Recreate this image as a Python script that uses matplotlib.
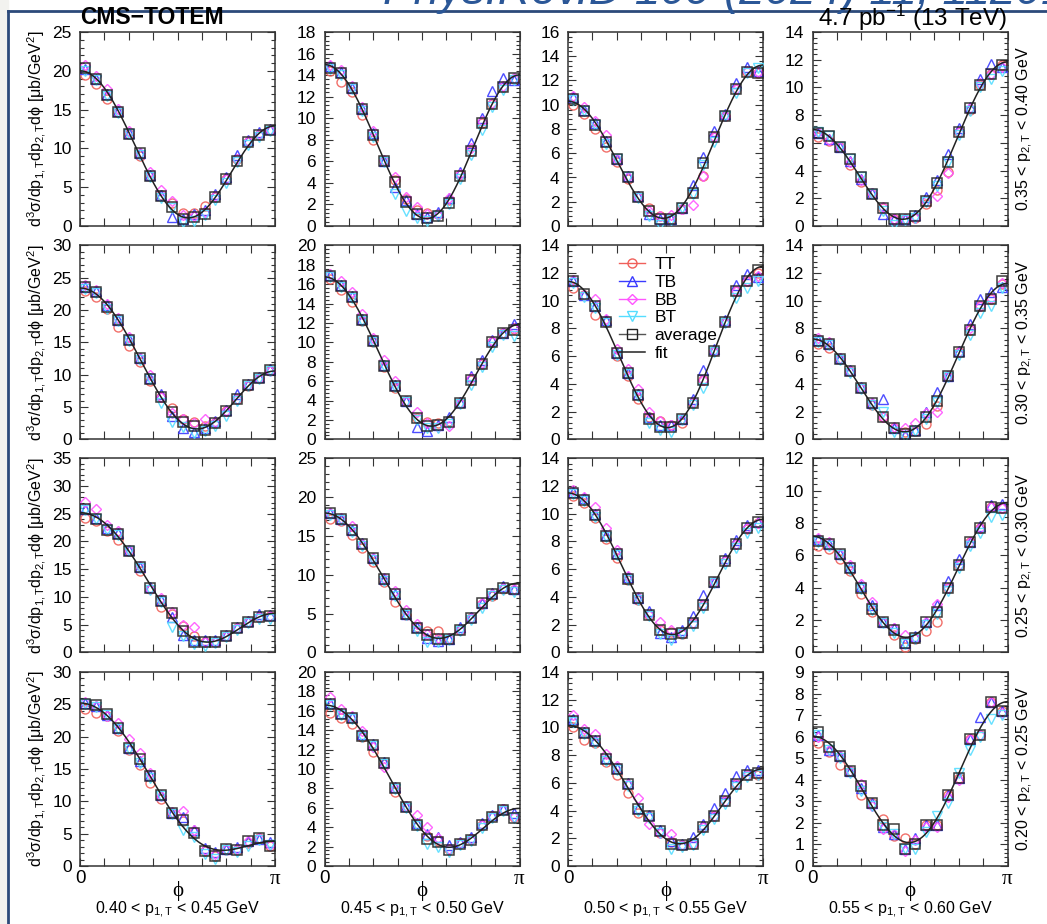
import numpy as np
import matplotlib
matplotlib.use("Agg")
import matplotlib.pyplot as plt
from matplotlib.ticker import FixedLocator, MultipleLocator, AutoMinorLocator, NullFormatter
from matplotlib.lines import Line2D
from matplotlib.patches import Rectangle

plt.rcParams['font.family'] = ['Liberation Sans', 'DejaVu Sans']
plt.rcParams['mathtext.fontset'] = 'custom'
plt.rcParams['mathtext.rm'] = 'Liberation Sans'
plt.rcParams['mathtext.it'] = 'Liberation Sans:italic'
plt.rcParams['mathtext.bf'] = 'Liberation Sans:bold'

# ---------------- data ----------------
N_BINS = 18
P1_EDGES = ["0.40", "0.45", "0.50", "0.55", "0.60"]          # columns
P2_ROWS = [("0.35", "0.40"), ("0.30", "0.35"), ("0.25", "0.30"), ("0.20", "0.25")]  # rows (top->bottom)
Y_MAX = [[25, 18, 16, 14], [30, 20, 14, 14], [35, 25, 14, 12], [30, 20, 14, 9]]
Y_STEP = [[5, 2, 2, 2], [5, 2, 2, 2], [5, 5, 2, 2], [5, 2, 2, 1]]

AVG = [
 [[20.3,19.0,16.9,14.7,11.9,9.4,6.4,3.9,2.5,0.9,1.1,1.5,3.8,6.0,8.4,10.8,11.7,12.4],
  [14.7,14.2,12.8,10.9,8.4,6.0,4.1,2.2,1.1,0.7,0.9,2.1,4.6,7.0,9.6,11.3,12.9,13.7],
  [10.5,9.5,8.3,6.9,5.5,4.0,2.4,1.2,0.6,0.6,1.5,2.7,5.2,7.3,9.1,11.3,12.7,12.6],
  [6.7,6.5,5.7,4.8,3.5,2.3,1.3,0.5,0.5,0.7,1.8,3.1,4.6,6.8,8.5,10.2,11.0,11.6]],
 [[23.5,22.8,20.4,18.5,15.4,12.5,9.4,6.5,4.2,2.7,2.0,1.5,2.5,4.3,6.2,8.4,9.5,10.7],
  [16.8,15.8,14.7,12.3,10.1,7.6,5.5,3.9,2.2,1.4,1.5,1.8,3.7,6.1,7.8,10.0,11.0,11.3],
  [11.4,10.5,9.6,8.5,6.2,4.8,3.2,1.5,0.9,0.9,1.5,2.6,4.3,6.4,8.5,10.7,11.4,12.2],
  [7.1,6.9,5.8,4.9,3.7,2.6,1.6,0.8,0.4,0.6,1.6,2.8,4.6,6.3,7.9,9.6,10.1,11.4]],
 [[25.8,24.1,22.1,21.4,18.3,15.3,11.6,9.3,7.1,3.8,1.8,1.9,1.9,3.0,4.3,5.5,6.4,6.6],
  [17.9,17.2,15.7,13.9,12.2,9.4,7.5,4.9,3.1,2.2,1.7,1.7,2.9,4.4,6.4,7.5,8.3,8.1],
  [11.5,11.0,9.9,8.4,7.1,5.3,3.9,2.7,1.6,1.3,1.4,2.1,3.4,5.1,6.6,7.8,9.0,9.4],
  [6.9,6.7,6.1,5.2,4.0,2.7,1.9,1.4,0.6,0.9,1.9,2.5,4.0,5.4,6.8,7.7,9.0,8.9]],
 [[25.1,24.9,23.5,21.4,18.3,16.6,13.9,11.0,8.2,7.1,5.1,2.3,1.5,2.6,2.4,3.8,4.3,3.1],
  [16.7,15.7,15.3,13.4,12.5,10.6,8.0,6.1,4.2,2.8,2.5,1.6,2.3,2.7,4.2,5.1,5.8,5.0],
  [10.5,9.6,9.0,7.7,7.0,5.9,4.1,3.6,2.5,1.6,1.5,1.6,2.8,3.6,4.7,5.9,6.6,6.7],
  [6.2,5.5,5.1,4.4,3.7,2.9,1.9,1.7,0.8,1.0,1.9,1.9,3.3,4.1,5.9,6.1,7.6,7.2]],
]

TT = [
 [[19.4,18.3,16.4,14.7,11.8,9.0,6.4,4.0,3.0,1.7,1.7,2.6,3.8,6.0,8.6,10.8,11.7,12.4],
  [14.4,13.4,12.4,10.3,8.0,6.0,4.3,2.5,1.5,1.2,1.1,2.4,4.7,7.0,9.6,11.3,12.9,13.6],
  [10.0,9.2,8.0,6.5,5.3,3.9,2.4,1.5,0.8,0.6,1.4,2.7,4.1,7.3,9.1,11.3,12.7,12.6],
  [6.4,6.1,5.7,4.4,3.2,2.3,1.3,0.5,0.5,0.6,1.6,2.6,3.9,6.8,8.4,10.2,11.0,11.6]],
 [[22.9,22.0,20.1,17.4,14.4,12.0,9.0,6.5,4.8,3.2,2.6,2.0,2.5,4.3,6.2,8.3,9.5,10.7],
  [16.5,15.4,14.2,12.2,10.0,7.5,5.3,3.9,2.2,1.8,1.7,1.9,3.7,6.1,7.8,10.0,11.0,11.4],
  [10.9,10.4,9.0,8.5,6.0,4.6,2.9,1.6,1.3,1.0,1.2,2.6,4.3,6.4,8.5,10.7,11.4,12.0],
  [6.9,6.6,5.8,4.9,3.7,2.5,1.6,0.8,0.5,0.6,1.1,2.4,4.6,6.3,7.9,9.6,10.1,11.2]],
 [[24.2,23.7,21.8,20.3,18.2,14.6,11.5,8.2,7.0,4.7,3.0,1.9,1.9,3.0,4.3,5.5,6.4,6.6],
  [17.2,16.9,15.1,13.5,11.7,9.1,6.5,4.8,3.2,2.7,2.7,1.7,2.9,4.4,6.2,7.3,8.1,8.0],
  [11.3,10.8,9.7,8.2,6.8,5.2,3.8,2.7,1.6,1.5,1.3,2.1,3.4,5.1,6.6,7.8,8.9,9.3],
  [6.6,6.4,5.8,5.0,3.6,2.5,1.9,1.1,0.3,0.8,1.3,1.9,4.0,5.4,6.8,7.7,9.0,8.9]],
 [[24.3,23.7,23.2,20.9,17.9,15.6,12.8,10.4,8.2,6.9,5.2,2.3,1.5,2.5,2.4,3.6,4.3,3.1],
  [15.8,15.3,14.6,13.3,11.8,10.5,7.6,6.1,4.3,3.1,2.6,1.8,2.4,2.8,4.2,5.2,5.9,5.1],
  [10.0,9.1,8.9,7.5,6.6,5.3,3.8,3.6,2.4,1.7,1.5,1.6,2.8,3.6,4.7,5.9,6.6,6.6],
  [5.7,5.3,4.7,4.4,3.3,2.9,2.2,1.4,1.3,1.0,1.9,1.9,3.3,4.1,5.9,6.1,7.6,7.2]],
]

TB = [
 [[20.2,19.0,17.0,14.8,12.0,9.4,6.6,4.0,1.2,0.9,1.6,2.0,4.1,6.3,9.1,11.1,12.1,12.5],
  [14.8,14.3,12.8,10.9,8.6,6.0,3.6,2.4,1.1,0.8,1.3,2.6,5.0,7.7,10.0,12.5,13.7,13.5],
  [10.6,9.6,8.5,7.0,5.5,4.1,2.5,1.0,0.6,0.6,1.5,3.4,5.7,7.8,9.2,11.8,13.1,12.8],
  [6.7,6.3,5.7,4.7,3.4,2.4,0.9,0.5,0.5,0.8,2.1,3.3,5.2,7.1,8.6,10.6,11.7,11.5]],
 [[23.5,22.9,20.7,18.5,15.5,12.5,9.5,7.0,3.6,1.8,1.2,1.7,2.9,4.6,7.0,8.6,9.6,10.8],
  [16.9,15.9,14.8,12.4,10.2,7.7,5.6,3.9,1.3,0.9,1.5,2.3,3.8,6.5,8.2,10.2,11.0,11.9],
  [11.4,10.4,9.6,8.6,6.2,4.8,3.3,1.6,1.0,1.0,1.5,2.9,5.0,6.5,8.6,11.1,11.9,11.7],
  [7.2,6.9,5.9,5.0,3.8,2.6,2.9,0.8,0.3,0.7,2.0,3.4,4.6,6.4,8.3,10.1,10.6,11.0]],
 [[25.8,24.2,22.5,21.6,18.4,15.4,11.8,9.5,6.3,3.2,2.3,2.3,2.2,3.2,4.5,5.7,7.0,6.7],
  [17.9,17.2,15.7,14.1,12.2,9.5,7.5,5.0,3.2,1.9,1.5,1.7,3.2,4.6,6.3,7.6,8.6,8.2],
  [11.6,11.1,10.0,8.5,7.2,5.4,3.9,3.0,1.4,1.1,1.6,2.6,4.1,5.1,6.8,8.1,9.2,9.4],
  [7.0,6.7,6.1,5.3,4.1,2.9,1.9,1.5,0.6,1.0,1.9,2.9,4.4,5.8,6.8,7.8,9.1,9.2]],
 [[25.2,24.8,23.4,21.3,18.3,16.3,14.0,11.0,8.2,7.6,5.5,2.8,2.2,2.6,2.9,3.9,4.2,3.7],
  [16.8,15.8,15.4,13.6,12.6,10.7,8.1,6.2,4.4,3.3,3.0,2.2,2.5,3.0,4.4,5.3,5.9,5.5],
  [10.6,9.7,9.1,7.8,7.1,6.0,4.2,3.7,2.6,1.8,1.6,2.1,3.0,4.2,5.3,6.5,6.9,6.9],
  [6.1,5.4,5.1,4.4,3.6,2.9,1.8,1.5,0.8,1.3,1.9,1.9,3.3,4.1,5.9,6.9,7.6,7.2]],
]

BB = [
 [[20.7,19.3,17.7,15.1,12.3,9.4,6.9,4.6,3.2,1.4,1.3,1.8,3.9,6.0,8.6,10.9,11.8,12.4],
  [14.9,14.5,13.0,11.0,8.8,6.1,4.5,2.7,1.8,1.1,1.0,2.6,4.8,7.2,9.7,11.4,13.0,13.7],
  [10.7,9.8,8.7,7.5,5.5,4.0,2.4,1.2,0.8,0.9,1.4,1.7,4.1,7.3,9.1,11.3,12.8,12.7],
  [6.8,6.2,5.7,4.6,3.3,2.4,1.4,0.5,0.5,0.6,1.8,2.2,3.8,6.8,8.5,10.3,11.0,11.5]],
 [[23.9,23.1,21.0,18.8,15.8,12.6,9.9,6.6,4.0,3.1,2.5,3.2,2.6,4.3,6.3,8.4,9.5,10.6],
  [17.0,16.3,15.2,12.9,10.4,8.2,6.0,4.0,2.8,1.7,1.3,1.4,3.7,6.3,7.9,10.1,11.0,11.5],
  [11.5,10.4,10.1,8.7,6.5,5.1,3.6,2.0,1.3,1.0,1.5,2.7,4.3,6.4,8.5,10.7,11.4,11.8],
  [7.3,7.0,5.9,4.9,3.7,2.6,1.6,0.9,0.8,1.2,1.9,2.0,4.6,6.3,8.0,9.6,10.2,11.3]],
 [[27.2,25.8,23.0,21.8,18.4,15.5,11.5,9.8,7.2,5.0,4.6,1.9,1.9,3.0,4.3,5.5,6.4,6.6],
  [18.0,17.3,16.3,14.0,12.2,9.6,7.9,5.5,3.7,2.4,1.9,1.8,2.9,4.4,6.4,7.5,8.3,8.1],
  [11.7,11.2,10.5,9.0,7.4,5.5,4.0,2.7,2.2,1.6,1.4,2.1,3.4,5.1,6.6,7.8,9.0,9.3],
  [7.1,6.8,6.1,5.4,4.2,3.1,1.9,1.5,1.1,0.9,1.9,3.0,4.0,5.4,6.8,7.7,9.0,8.9]],
 [[25.4,24.7,23.2,22.1,19.6,17.5,14.4,10.9,8.3,8.5,5.5,2.4,1.8,2.6,2.6,3.9,4.4,3.3],
  [17.4,16.2,15.5,13.9,12.3,10.2,8.0,6.2,5.3,4.0,2.9,1.8,2.4,2.8,4.2,5.2,5.9,5.1],
  [10.9,9.9,9.5,8.1,7.2,5.9,4.9,3.0,2.4,2.3,1.5,1.6,2.8,3.6,4.7,5.9,6.6,6.7],
  [6.0,5.4,5.1,4.4,3.8,2.8,1.7,1.5,0.7,1.2,1.8,1.8,3.2,4.0,5.9,6.1,7.6,7.1]],
]

BT = [
 [[20.0,18.8,16.8,14.6,11.8,9.2,6.3,3.6,2.3,0.5,0.6,1.4,3.3,5.5,8.2,10.5,11.5,12.3],
  [14.6,14.0,12.7,10.7,8.3,5.9,3.0,1.4,0.7,0.5,0.9,2.0,4.4,6.6,8.9,11.0,12.6,13.5],
  [10.4,9.5,8.3,6.8,5.5,4.0,2.3,0.8,0.1,0.5,1.5,2.6,5.0,6.9,9.1,11.0,12.6,13.0],
  [6.8,6.5,5.7,4.8,3.5,2.3,1.1,0.1,0.4,0.6,1.7,2.9,4.6,6.6,8.3,10.0,10.6,11.2]],
 [[23.3,22.6,20.2,18.3,15.2,12.3,9.3,5.6,2.6,1.9,1.0,1.3,2.1,3.6,5.9,8.2,9.4,10.6],
  [16.7,15.7,14.6,12.2,10.0,7.6,5.4,3.8,2.0,1.2,1.2,1.6,3.6,5.6,7.5,9.5,10.8,10.7],
  [11.3,10.3,9.5,8.4,6.1,4.7,3.1,1.2,0.7,0.5,1.4,2.5,3.7,6.3,8.4,10.2,10.9,11.4],
  [7.0,6.8,5.7,4.8,3.6,2.5,2.0,0.5,0.2,0.6,1.5,2.7,4.5,6.1,7.5,9.1,9.6,10.9]],
 [[25.7,24.0,22.0,21.2,18.2,15.2,11.3,9.0,4.6,3.0,1.5,1.2,1.7,2.8,4.1,5.3,6.0,6.0],
  [17.7,17.0,15.5,13.7,11.9,9.2,7.3,4.8,2.8,1.3,1.3,1.6,2.7,4.2,5.7,7.2,8.0,7.8],
  [11.4,10.9,9.8,8.3,7.0,5.2,3.8,2.6,1.3,0.9,1.3,1.9,3.2,5.0,6.4,7.5,8.6,9.0],
  [6.8,6.6,6.0,5.1,3.9,2.6,1.8,1.2,0.5,0.8,1.7,2.4,3.8,5.2,6.6,7.4,8.4,8.5]],
 [[25.0,24.6,23.3,21.2,18.1,16.0,13.6,10.8,8.0,5.5,4.5,1.9,1.1,2.4,2.2,3.1,4.0,3.2],
  [16.6,15.6,15.2,13.3,12.4,10.5,7.9,6.0,4.1,2.3,2.0,1.4,2.2,2.6,3.9,5.0,5.7,5.0],
  [10.4,9.5,8.9,7.6,6.9,5.8,4.0,3.5,2.4,1.2,1.4,1.5,2.6,3.4,4.5,5.7,6.4,6.6],
  [6.1,5.4,5.0,4.3,3.5,2.8,1.8,1.5,0.8,0.8,1.6,2.3,2.9,4.3,5.4,6.0,6.8,7.0]],
]

SERIES = [("TT", TT, "o", "#f0605a", 6.5),
          ("TB", TB, "^", "#3a3aff", 6.5),
          ("BB", BB, "D", "#ff55ff", 4.8),
          ("BT", BT, "v", "#55ddff", 6.5)]

# ---------------- layout ----------------
W, H = 1047, 924
fig = plt.figure(figsize=(W / 100, H / 100), dpi=100)
fig.patch.set_facecolor("white")

SERIF = ["Liberation Serif", "DejaVu Serif"]
PHI = "\u03d5"

# slide frame
fig.add_artist(Rectangle((0, 0), 8 / W, 1, transform=fig.transFigure, color="#f2f2ef", zorder=0))
fig.add_artist(Line2D([8 / W, 8 / W], [0, 1 - 11 / H], transform=fig.transFigure, color="#2c4a7a", lw=2))
fig.add_artist(Line2D([8 / W, 1], [1 - 11 / H, 1 - 11 / H], transform=fig.transFigure, color="#2c4a7a", lw=2))
fig.text(383 / W, 1 - 4 / H, "Phys.Rev.D 109 (2024) 11, 112013", style="italic",
         color="#2b5797", fontsize=33, ha="left", va="baseline")

AX_LEFT = [80, 324.5, 568, 812.5]
AX_TOP = [32, 245.3, 458.3, 672]
AX_W, AX_H = 195, 194

phi_bins = (np.arange(N_BINS) + 0.5) * np.pi / N_BINS
phi_fine = np.linspace(0, np.pi, 300)

def fit_curve(y):
    basis = np.column_stack([np.cos(k * phi_bins) for k in range(4)])
    coef, *_ = np.linalg.lstsq(basis, np.asarray(y), rcond=None)
    return sum(c * np.cos(k * phi_fine) for k, c in enumerate(coef))

axes = {}
for r in range(4):
    for c in range(4):
        l, t = AX_LEFT[c], AX_TOP[r]
        ax = fig.add_axes([l / W, 1 - (t + AX_H) / H, AX_W / W, AX_H / H])
        axes[(r, c)] = ax
        for (name, data, mk, col, ms) in SERIES:
            ax.plot(phi_bins, data[r][c], ls="none", marker=mk, ms=ms, mfc="none",
                    mec=col, mew=1.0, alpha=0.9, zorder=3)
        ax.plot(phi_bins, AVG[r][c], ls="none", marker="s", ms=6.8, mfc="none",
                mec="#1a1a1a", mew=1.1, alpha=0.85, zorder=4)
        ax.plot(phi_fine, fit_curve(AVG[r][c]), color="#222222", lw=1.1, zorder=5)
        ax.set_xlim(0, np.pi)
        ax.set_ylim(0, Y_MAX[r][c])
        ax.xaxis.set_major_locator(FixedLocator(np.arange(9) * np.pi / 8))
        ax.xaxis.set_major_formatter(NullFormatter())
        ax.yaxis.set_major_locator(MultipleLocator(Y_STEP[r][c]))
        ax.yaxis.set_minor_locator(AutoMinorLocator(5))
        ax.tick_params(which="both", direction="in", top=True, right=True, width=0.8, color="#333333")
        ax.tick_params(which="major", length=6, labelsize=12.5, pad=6)
        ax.tick_params(which="minor", length=3)
        for s in ax.spines.values():
            s.set_linewidth(1.1)
            s.set_color("#333333")
        if r == 3:
            ax.text(0, -0.02, "0", transform=ax.transAxes, ha="center", va="top", fontsize=13.5)
            ax.text(1, -0.02, "π", transform=ax.transAxes, ha="center", va="top", fontsize=15,
                    family=SERIF)
            ax.text(0.5, -0.075, PHI, transform=ax.transAxes, ha="center", va="top", fontsize=15,
                    family=SERIF)
            fig.text((l + AX_W / 2) / W, 1 - 910 / H,
                     r"%s < p$_{1,\mathrm{T}}$ < %s GeV" % (P1_EDGES[c], P1_EDGES[c + 1]),
                     ha="center", va="center", fontsize=11.5)
        if c == 0:
            fig.text(36 / W, 1 - (t + AX_H / 2) / H,
                     r"d$^{3}$σ/dp$_{1,\mathrm{T}}$dp$_{2,\mathrm{T}}$d" + PHI + r" [μb/GeV$^{2}$]",
                     rotation=90, ha="center", va="center", fontsize=11.5)
        if c == 3:
            fig.text(1025 / W, 1 - (t + AX_H / 2) / H,
                     r"%s < p$_{2,\mathrm{T}}$ < %s GeV" % P2_ROWS[r],
                     rotation=90, ha="center", va="center", fontsize=11.5)

fig.text(80 / W, 1 - 24 / H, "CMS\u2212TOTEM", fontsize=16.5, fontweight="bold", ha="left", va="baseline")
fig.text(1007 / W, 1 - 26 / H, r"4.7 pb$^{-1}$ (13 TeV)", fontsize=17.5, ha="right", va="baseline")

# legend
handles = [Line2D([], [], color=col, marker=mk, ms=ms, mfc="none", mec=col, lw=1) for (_, _, mk, col, ms) in SERIES]
handles.append(Line2D([], [], color="#555555", marker="s", ms=6.8, mfc="none", mec="#222222", lw=1))
handles.append(Line2D([], [], color="#222222", lw=1.1))
labels = [s[0] for s in SERIES] + ["average", "fit"]
axes[(1, 2)].legend(handles, labels, loc="upper left", bbox_to_anchor=(0.26, 0.94),
                    frameon=False, fontsize=12.5, handlelength=1.5, handletextpad=0.55,
                    labelspacing=0.15, borderpad=0, borderaxespad=0)

fig.savefig("out.png", dpi=100)
